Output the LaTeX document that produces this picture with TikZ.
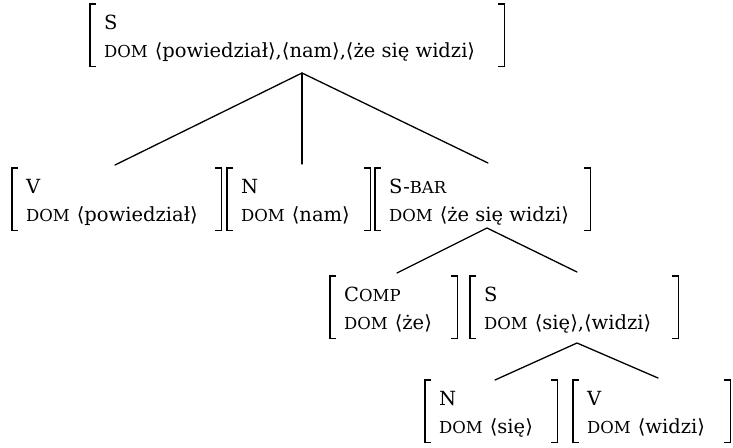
\documentclass[tikz,border=0pt]{standalone}
\usepackage{fontspec}
\setmainfont{DejaVu Serif}
\begin{document}
\begin{tikzpicture}[x=1pt,y=-1pt,
  line/.style={line width=1.3pt,line cap=round},
  brk/.style={line width=1.6pt},
  fs/.style={inner sep=0pt,anchor=north west},
  lab/.style={inner sep=0pt,anchor=base west,font=\fontsize{19.5}{22}\selectfont}]
\useasboundingbox (0,0) rectangle (733,447);
\newcommand{\fsc}[1]{{\fontsize{16.5}{17}\selectfont #1}}
\newcommand{\dom}{\fsc{DOM}\hspace{7pt}}
\newcommand{\ang}[1]{⟨#1⟩}
% feature structures: name, left, right, top
\newcommand{\fsbox}[6]{%
  \node[fs,minimum width=#3-#2,minimum height=62] (#1) at (#2,#4) {};
  \draw[brk] ([xshift=6]#1.north west) -- (#1.north west) -- (#1.south west) -- ([xshift=6]#1.south west);
  \draw[brk] ([xshift=-6]#1.north east) -- (#1.north east) -- (#1.south east) -- ([xshift=-6]#1.south east);
  \node[lab] (#1-cat) at (#2+14,#4+25) {#5};
  \node[lab] (#1-dom) at (#2+14,#4+53) {#6};}
\fsbox{top}{90}{504}{4}{S}{\dom\ang{powiedział},\ang{nam},\ang{że się widzi}}
\fsbox{v1}{12}{221}{168}{V}{\dom\ang{powiedział}}
\fsbox{n1}{227}{370}{168}{N}{\dom\ang{nam}}
\fsbox{sbar}{375}{590}{168}{S-\fsc{BAR}}{\dom\ang{że się widzi}}
\fsbox{comp}{330}{457}{276}{C\fsc{OMP}}{\dom\ang{że}}
\fsbox{s2}{470}{678}{276}{S}{\dom\ang{się},\ang{widzi}}
\fsbox{n2}{425}{557}{380}{N}{\dom\ang{się}}
\fsbox{v2}{573}{730}{380}{V}{\dom\ang{widzi}}
% connectors
\coordinate (a1) at (302,73);
\coordinate (a2) at (487,228);
\coordinate (a3) at (577,343);
\coordinate (e1) at (115,165);
\coordinate (e2) at (302,164);
\coordinate (e3) at (488,163);
\coordinate (e4) at (397,273);
\coordinate (e5) at (577,272);
\coordinate (e6) at (495,380);
\coordinate (e7) at (658,378);
\draw[line] (e1) -- (a1) -- (e3);
\draw[line] (a1) -- (e2);
\draw[line] (e4) -- (a2) -- (e5);
\draw[line] (e6) -- (a3) -- (e7);
\end{tikzpicture}
\end{document}
